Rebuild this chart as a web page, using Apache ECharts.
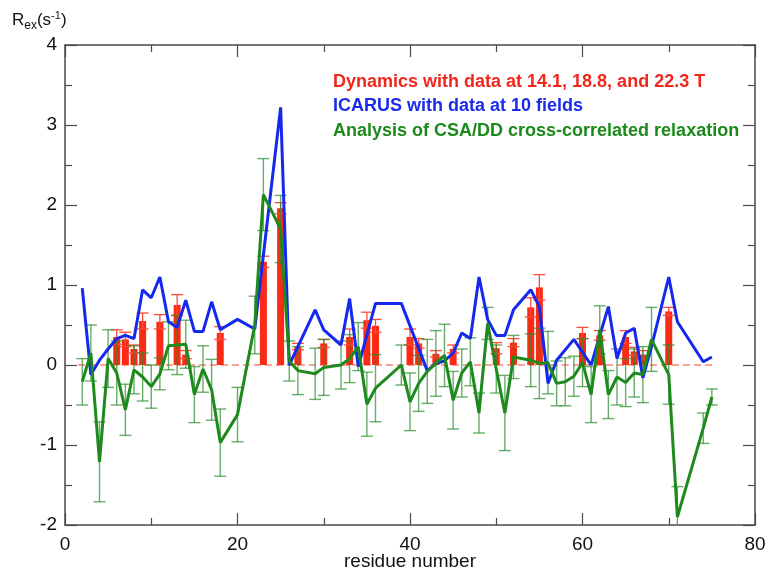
<!DOCTYPE html>
<html>
<head>
<meta charset="utf-8">
<title>Rex</title>
<script src="https://cdn.jsdelivr.net/npm/echarts@6/dist/echarts.min.js"></script>
<style>
  html, body { margin: 0; padding: 0; background: #fff; }
  #chart { width: 767px; height: 569px; }
</style>
</head>
<body>
<div id="chart"></div>
<script>
// Dynamics (14.1, 18.8, 22.3 T) - red bars
var dynRes = [6, 7, 8, 9, 11, 13, 14, 18, 23, 25, 27, 30, 33, 35, 36, 40, 41, 43, 45, 50, 52, 54, 55, 60, 62, 65, 66, 67, 70];
var dynVal = [0.35, 0.32, 0.2, 0.55, 0.54, 0.75, 0.13, 0.4, 1.29, 1.96, 0.23, 0.27, 0.35, 0.56, 0.49, 0.35, 0.27, 0.14, 0.2, 0.21, 0.28, 0.72, 0.97, 0.4, 0.37, 0.35, 0.17, 0.13, 0.67];
var dynErr = [0.09, 0.09, 0.05, 0.1, 0.09, 0.13, 0.05, 0.08, 0.07, 0.07, 0.04, 0.05, 0.1, 0.1, 0.08, 0.1, 0.06, 0.04, 0.05, 0.07, 0.05, 0.12, 0.16, 0.07, 0.06, 0.08, 0.05, 0.05, 0.05];

// ICARUS - blue line
var icaRes = [2, 3, 4, 5, 6, 7, 8, 9, 10, 11, 12, 13, 14, 15, 16, 17, 18, 20, 22, 25, 26, 29, 30, 32, 33, 34, 36, 39, 42, 43, 44, 45, 46, 47, 48, 49, 50, 51, 52, 54, 55, 56, 57, 59, 61, 63, 64, 65, 66, 67, 68, 70, 71, 74, 75];
var icaVal = [0.96, -0.12, 0.06, 0.2, 0.33, 0.37, 0.33, 0.94, 0.84, 1.1, 0.54, 0.47, 0.81, 0.42, 0.42, 0.79, 0.44, 0.57, 0.45, 3.22, 0.0, 0.69, 0.44, 0.25, 0.83, -0.02, 0.77, 0.77, -0.07, 0.02, 0.05, 0.15, 0.4, 0.33, 1.1, 0.57, 0.37, 0.37, 0.69, 0.94, 0.73, -0.23, 0.06, 0.32, 0.0, 0.73, 0.08, 0.4, 0.46, -0.16, 0.23, 1.1, 0.54, 0.04, 0.1];

// CSA/DD cross-correlated relaxation - green line with errors
var csaRes = [2, 3, 4, 5, 6, 7, 8, 9, 10, 11, 12, 13, 14, 15, 16, 17, 18, 20, 22, 23, 25, 26, 27, 29, 30, 32, 33, 34, 35, 36, 39, 40, 41, 42, 43, 44, 45, 46, 47, 48, 49, 50, 51, 52, 54, 55, 56, 57, 58, 59, 60, 61, 62, 63, 64, 65, 66, 67, 68, 70, 71, 74, 75];
var csaVal = [-0.21, 0.15, -1.21, 0.08, -0.1, -0.56, -0.06, -0.15, -0.27, -0.11, 0.24, 0.25, 0.26, -0.37, -0.05, -0.31, -0.97, -0.62, 0.5, 2.13, 1.7, 0.05, -0.07, -0.11, -0.03, 0.0, 0.08, 0.23, -0.49, -0.29, 0.0, -0.46, -0.23, -0.08, 0.02, 0.12, -0.44, -0.1, 0.04, -0.6, 0.52, -0.05, -0.6, 0.1, 0.06, 0.02, 0.03, -0.23, -0.21, -0.14, 0.03, -0.37, 0.44, -0.37, -0.15, -0.22, -0.1, -0.12, 0.32, -0.12, -1.9, -0.79, -0.4];
var csaErr = [0.29, 0.35, 0.5, 0.36, 0.4, 0.32, 0.3, 0.3, 0.27, 0.2, 0.3, 0.37, 0.3, 0.35, 0.29, 0.38, 0.42, 0.34, 0.36, 0.45, 0.42, 0.25, 0.3, 0.32, 0.35, 0.3, 0.3, 0.3, 0.4, 0.42, 0.25, 0.36, 0.35, 0.4, 0.41, 0.39, 0.36, 0.3, 0.3, 0.25, 0.2, 0.3, 0.47, 0.27, 0.33, 0.44, 0.39, 0.28, 0.3, 0.25, 0.3, 0.35, 0.3, 0.3, 0.35, 0.3, 0.3, 0.35, 0.4, 0.37, 0.38, 0.19, 0.1];

var zeroRange = [1.5, 75.5];

var xTicks = { min: 0, max: 80, interval: 20 };
var yTicks = { min: -2, max: 4, interval: 1 };

var FONT = '"Liberation Sans", Arial, Helvetica, sans-serif';

function pairs(xs, ys) {
  return xs.map(function (x, i) { return [x, ys[i]]; });
}
function errRows(xs, ys, es) {
  return xs.map(function (x, i) { return [x, ys[i] - es[i], ys[i] + es[i]]; });
}

function errBar(color, capW, lw) {
  return function (params, api) {
    var x = api.value(0);
    var lo = api.coord([x, api.value(1)]);
    var hi = api.coord([x, api.value(2)]);
    var st = { stroke: color, lineWidth: lw };
    return {
      type: 'group',
      children: [
        { type: 'line', shape: { x1: hi[0], y1: hi[1], x2: lo[0], y2: lo[1] }, style: st },
        { type: 'line', shape: { x1: hi[0] - capW / 2, y1: hi[1], x2: hi[0] + capW / 2, y2: hi[1] }, style: st },
        { type: 'line', shape: { x1: lo[0] - capW / 2, y1: lo[1], x2: lo[0] + capW / 2, y2: lo[1] }, style: st }
      ]
    };
  };
}

var axisCol = '#4a4a4a';

function xAx(pos, labels) {
  return {
    type: 'value', position: pos, min: xTicks.min, max: xTicks.max, interval: xTicks.interval,
    axisLine: { show: true, onZero: false, lineStyle: { color: axisCol, width: 1.5 } },
    axisTick: { show: true, inside: true, length: 12, lineStyle: { color: axisCol, width: 1.2 } },
    minorTick: { show: true, splitNumber: 2, length: 7, lineStyle: { color: axisCol, width: 1.2 } },
    axisLabel: { show: labels, color: '#111', fontSize: 19, fontFamily: FONT, margin: 10 },
    splitLine: { show: false }
  };
}
function yAx(pos, labels) {
  return {
    type: 'value', position: pos, min: yTicks.min, max: yTicks.max, interval: yTicks.interval,
    axisLine: { show: true, onZero: false, lineStyle: { color: axisCol, width: 1.5 } },
    axisTick: { show: true, inside: true, length: 12, lineStyle: { color: axisCol, width: 1.2 } },
    minorTick: { show: true, splitNumber: 2, length: 7, lineStyle: { color: axisCol, width: 1.2 } },
    axisLabel: { show: labels, color: '#111', fontSize: 19, fontFamily: FONT, margin: 8 },
    splitLine: { show: false }
  };
}

var chart = echarts.init(document.getElementById('chart'));

var option = {
  backgroundColor: '#fff',
  animation: false,
  grid: { left: 65, right: 12, top: 45, bottom: 44, containLabel: false, outerBoundsMode: 'none' },
  xAxis: [xAx('bottom', true), xAx('top', false)],
  yAxis: [yAx('left', true), yAx('right', false)],
  graphic: [
    {
      type: 'text', left: 12, top: 10,
      style: {
        text: '{r|R}{sub|ex}{r|(s}{sup|-1}{r|)}',
        rich: {
          r: { fontSize: 17, fontFamily: FONT, fill: '#111', verticalAlign: 'middle' },
          sub: { fontSize: 12, fontFamily: FONT, fill: '#111', padding: [10, 0, 0, 0] },
          sup: { fontSize: 11, fontFamily: FONT, fill: '#111', padding: [0, 0, 10, 0] }
        }
      }
    },
    {
      type: 'text', x: 410, y: 552,
      style: { text: 'residue number', fill: '#111', font: '19px ' + FONT, align: 'center', verticalAlign: 'top' }
    },
    { type: 'text', left: 333, top: 73, style: { text: 'Dynamics with data at 14.1, 18.8, and 22.3 T', fill: '#f2271c', font: 'bold 18px ' + FONT } },
    { type: 'text', left: 333, top: 97, style: { text: 'ICARUS with data at 10 fields', fill: '#1a2bea', font: 'bold 18px ' + FONT } },
    { type: 'text', left: 333, top: 122, style: { text: 'Analysis of CSA/DD cross-correlated relaxation', fill: '#1b8a1b', font: 'bold 18px ' + FONT } }
  ],
  series: [
    {
      type: 'line', data: zeroRange.map(function (x) { return [x, 0]; }),
      symbol: 'none', silent: true,
      lineStyle: { color: '#ff4030', width: 1.2, type: [7, 4] }, z: 1
    },
    {
      type: 'bar', data: pairs(dynRes, dynVal), barWidth: 7,
      itemStyle: { color: '#fa2a14' }, z: 2
    },
    {
      type: 'custom', data: errRows(dynRes, dynVal, dynErr),
      renderItem: errBar('#ff4a3a', 12, 1.3), clip: true, z: 3
    },
    {
      type: 'custom', data: errRows(csaRes, csaVal, csaErr),
      renderItem: errBar('rgba(40,140,40,0.7)', 12, 1.4), clip: true, z: 4
    },
    {
      type: 'line', data: pairs(icaRes, icaVal), symbol: 'none',
      lineStyle: { color: '#1428ee', width: 3 }, z: 5
    },
    {
      type: 'line', data: pairs(csaRes, csaVal), symbol: 'none',
      lineStyle: { color: '#1e8a1e', width: 3 }, z: 6
    }
  ]
};

chart.setOption(option);
</script>
</body>
</html>
